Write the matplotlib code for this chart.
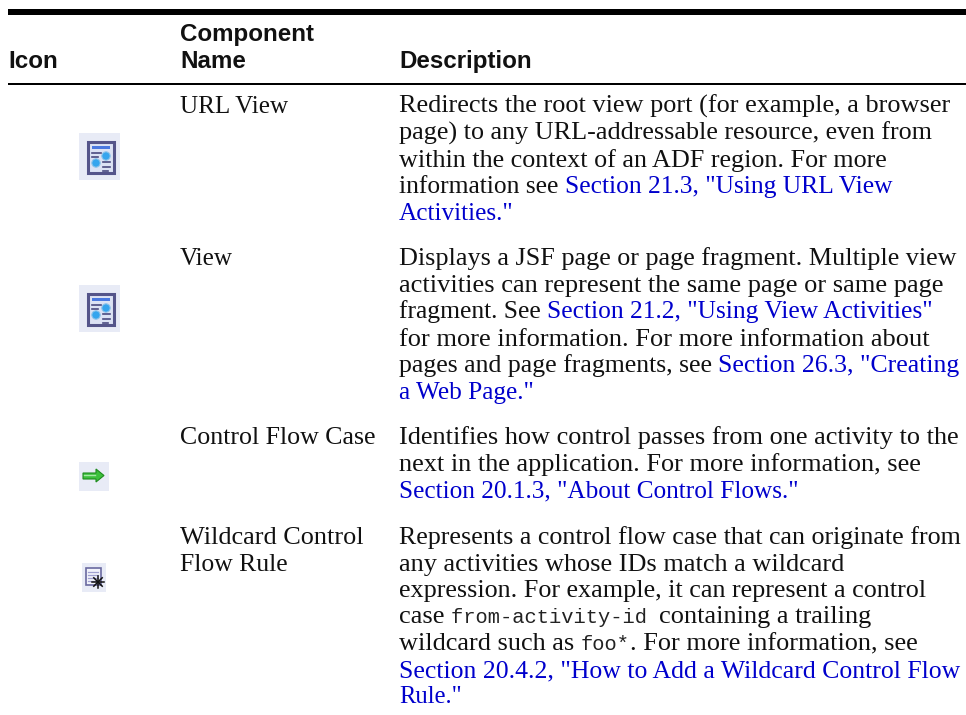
import matplotlib
matplotlib.use("Agg")
import matplotlib.pyplot as plt
from matplotlib.patches import Rectangle, Polygon, Circle

W, H = 966, 715
BLACK = "#111111"
BLUE = "#0000CC"
SERIF = "Liberation Serif"
MONO = "Liberation Mono"
SANS = "Liberation Sans"
BODY = 18.9

header_cols = ["Icon", "Component\nName", "Description"]

names = [["URL View"], ["View"], ["Control Flow Case"], ["Wildcard Control", "Flow Rule"]]

# n = normal, l = link, m = monospace
url_view = [
    [("n", "Redirects the root view port (for example, a browser")],
    [("n", "page) to any URL-addressable resource, even from")],
    [("n", "within the context of an ADF region. For more")],
    [("n", "information see "), ("l", "Section 21.3, \"Using URL View")],
    [("l", "Activities.\"")],
]
view = [
    [("n", "Displays a JSF page or page fragment. Multiple view")],
    [("n", "activities can represent the same page or same page")],
    [("n", "fragment. See "), ("l", "Section 21.2, \"Using View Activities\"")],
    [("n", "for more information. For more information about")],
    [("n", "pages and page fragments, see "), ("l", "Section 26.3, \"Creating")],
    [("l", "a Web Page.\"")],
]
control_flow = [
    [("n", "Identifies how control passes from one activity to the")],
    [("n", "next in the application. For more information, see")],
    [("l", "Section 20.1.3, \"About Control Flows.\"")],
]
wildcard = [
    [("n", "Represents a control flow case that can originate from")],
    [("n", "any activities whose IDs match a wildcard")],
    [("n", "expression. For example, it can represent a control")],
    [("n", "case "), ("m", "from-activity-id "), ("n", "containing a trailing")],
    [("n", "wildcard such as "), ("m", "foo*"), ("n", ". For more information, see")],
    [("l", "Section 20.4.2, \"How to Add a Wildcard Control Flow")],
    [("l", "Rule.\"")],
]
descriptions = [url_view, view, control_flow, wildcard]

# layout: baselines and where each line ends
row_baselines = [
    [113, 140, 167, 193, 220],
    [265, 292, 318, 346, 372, 399],
    [444, 471, 497],
    [544, 571, 597, 623, 650, 677, 703],
]
desc_ends = [
    [950, 933, 888, 893, 514],
    [956, 944, 933, 930, 961, 534],
    [959, 922, 800],
    [961, 845, 928, 872, 918, 960, 462],
]
name_ends = [[288], [233], [376], [364, 288]]

fig = plt.figure(figsize=(W / 100, H / 100), dpi=100)
ax = fig.add_axes([0, 0, 1, 1])
ax.set_xlim(0, W)
ax.set_ylim(H, 0)
ax.axis("off")
renderer = fig.canvas.get_renderer()


def text_width(s, **kw):
    # bars keep the spaces at the ends of a run in the measure
    a = ax.text(0, 0, "|" + s + "|", **kw)
    b = ax.text(0, 0, "||", **kw)
    w = a.get_window_extent(renderer).width - b.get_window_extent(renderer).width
    a.remove()
    b.remove()
    return w


def run_style(kind, size):
    if kind == "m":
        return dict(family=MONO, fontsize=14.8, color="#222222")
    if kind == "l":
        return dict(family=SERIF, fontsize=size, color=BLUE)
    return dict(family=SERIF, fontsize=size, color=BLACK)


def draw_runs(x, y, runs, end):
    # the serif is narrower than the original face, so fit each line to its end
    fixed = sum(text_width(s, **run_style(k, BODY)) for k, s in runs if k == "m")
    free = sum(text_width(s, **run_style(k, BODY)) for k, s in runs if k != "m")
    size = BODY * (end - x - fixed) / free
    for kind, s in runs:
        kw = run_style(kind, size)
        ax.text(x, y, s, va="baseline", ha="left", **kw)
        x += text_width(s, **kw)


def view_icon(top):
    ax.add_patch(Rectangle((79, top), 41, 47, fc="#E8EBF6", ec="none"))
    ax.add_patch(Rectangle((89, top + 10), 27, 31, fc="#A9A9BC", ec="none"))
    ax.add_patch(Rectangle((88, top + 9), 26, 31, fc="#DCE2F4", ec="#55558A", lw=2.2))
    ax.add_patch(Rectangle((92, top + 13), 18, 3, fc="#4A78E0", ec="none"))
    for yy, x0, x1 in [(19.5, 92, 101), (24, 92, 98), (29, 103, 110),
                       (33.5, 103, 110), (38, 103, 108)]:
        ax.plot([x0, x1], [top + yy, top + yy], color="#4A4A80", lw=1.2)
    ax.add_patch(Circle((106, top + 23), 4.2, fc="#35A5EE", ec="#8FC4EA", lw=0.8))
    ax.add_patch(Circle((96, top + 30), 4.2, fc="#35A5EE", ec="#8FC4EA", lw=0.8))


def arrow_icon():
    ax.add_patch(Rectangle((79, 462), 30, 29, fc="#E8EBF6", ec="none"))
    pts = [(83, 473), (96, 473), (96, 469), (104, 475.5), (96, 482), (96, 479), (83, 479)]
    ax.add_patch(Polygon(pts, closed=True, fc="#3CC03C", ec="#1E8A1E", lw=0.8))
    ax.plot([84, 95], [474.5, 474.5], color="#A5E8A5", lw=1)


def wildcard_icon():
    ax.add_patch(Rectangle((82, 563), 24, 29, fc="#E8EBF6", ec="none"))
    ax.add_patch(Rectangle((86, 568), 15, 17, fc="#F2F3FB", ec="#6A6AA0", lw=1.2))
    for yy in (572, 575, 578, 581):
        ax.plot([88, 98], [yy, yy], color="#A0A0D0", lw=0.9)
    for dx, dy in [(6, 0), (0, 6), (4.2, 4.2), (4.2, -4.2)]:
        ax.plot([98 - dx, 98 + dx], [582 - dy, 582 + dy], color="#111111", lw=1.1)


# clipped caption of the page above the table
ax.text(157, -3.5, "p", family=SANS, weight="bold", fontsize=15, color=BLACK, va="baseline")
ax.text(221, -3.5, "p", family=SANS, weight="bold", fontsize=15, color=BLACK, va="baseline")

# table rules
ax.add_patch(Rectangle((8, 9), W - 8, 6, fc="black", ec="none"))
ax.add_patch(Rectangle((8, 83), W - 8, 2, fc="black", ec="none"))

# header
head = dict(family=SANS, weight="bold", fontsize=17.4, color=BLACK, va="baseline")
ax.text(8, 68, header_cols[0], **head)
ax.text(180, 41, header_cols[1].split("\n")[0], **head)
ax.text(180, 68, header_cols[1].split("\n")[1], **head)
ax.text(399, 68, header_cols[2], **head)

# rows
for name, desc, ys, n_ends, d_ends in zip(names, descriptions, row_baselines, name_ends, desc_ends):
    for y, line, end in zip(ys, name, n_ends):
        draw_runs(180, y, [("n", line)], end)
    for y, runs, end in zip(ys, desc, d_ends):
        draw_runs(399, y, runs, end)

view_icon(133)
view_icon(285)
arrow_icon()
wildcard_icon()

fig.savefig("out.png", dpi=100)
